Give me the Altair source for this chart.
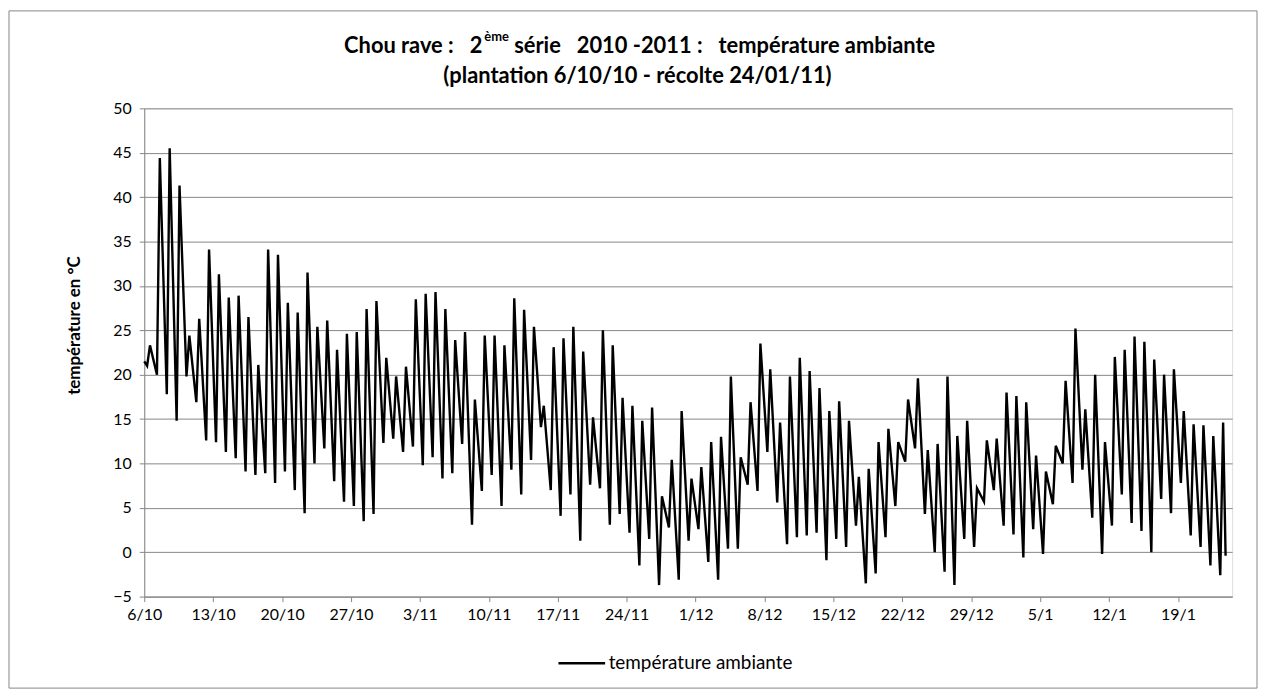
import altair as alt
import pandas as pd
from datetime import datetime, timedelta

# ---- data (daily minimum ~07h, daily maximum ~14h) ----
START = datetime(2010, 10, 6)
first_value = 21.5     # 6/10 00h
last_value = -0.4      # 23/1 20h

daily_min = [
    21.0, 20.0, 17.8, 14.8, 19.8, 16.9, 12.6, 12.4, 11.3, 10.6,
    9.1, 8.7, 8.9, 7.8, 9.1, 7.0, 4.4, 10.0, 11.7, 8.0,
    5.7, 5.2, 3.5, 4.3, 12.3, 12.8, 11.3, 11.9, 9.8, 10.7,
    8.3, 8.9, 12.2, 3.1, 6.9, 8.7, 5.2, 9.3, 6.5, 10.4,
    14.1, 7.0, 4.1, 6.5, 1.3, 7.6, 7.2, 3.1, 4.3, 2.2,
    -1.5, 1.5, -3.7, 2.8, -3.1, 1.3, 2.6, -1.1, -3.1, 0.4,
    0.4, 7.6, 6.9, 11.3, 5.6, 0.9, 1.7, 1.9, 2.2, -0.9,
    1.5, 0.6, 3.0, -3.5, -2.4, 1.7, 5.2, 10.2, 11.7, 4.3,
    0.0, -2.2, -3.7, 1.5, 0.6, 5.7, 7.0, 3.0, 2.0, -0.6,
    2.6, -0.2, 5.4, 10.0, 7.8, 9.3, 3.9, -0.2, 3.0, 6.5,
    3.3, 2.4, 0.0, 6.0, 4.4, 7.8, 1.9, 0.6, -1.5, -2.6,
]
daily_max = [
    23.3, 44.4, 45.5, 41.3, 24.4, 26.3, 34.1, 31.3, 28.7, 28.9,
    26.5, 21.1, 34.1, 33.5, 28.1, 27.0, 31.5, 25.4, 26.1, 22.8,
    24.6, 24.8, 27.4, 28.3, 21.9, 19.8, 20.9, 28.5, 29.1, 29.3,
    27.4, 23.9, 24.8, 17.2, 24.4, 24.4, 23.3, 28.6, 27.3, 25.4,
    16.5, 23.1, 24.1, 25.4, 22.6, 15.2, 25.0, 23.3, 17.4, 16.5,
    14.8, 16.3, 6.3, 10.4, 15.9, 8.3, 9.6, 12.4, 13.0, 19.8,
    10.7, 16.9, 23.5, 20.6, 14.6, 19.8, 21.9, 20.4, 18.5, 15.9,
    17.0, 14.8, 8.5, 9.4, 12.4, 13.9, 12.4, 17.2, 19.6, 11.5,
    12.2, 19.8, 13.1, 14.8, 7.2, 12.6, 12.8, 18.0, 17.6, 16.9,
    10.9, 9.1, 12.0, 19.3, 25.2, 16.1, 20.0, 12.4, 22.0, 22.8,
    24.3, 23.7, 21.7, 20.0, 20.6, 15.9, 14.4, 14.3, 13.1, 14.6,
]

series_name = "température ambiante"
y_ticks = [-5, 0, 5, 10, 15, 20, 25, 30, 35, 40, 45, 50]
x_tick_dates = [
    (2010, 10, 6), (2010, 10, 13), (2010, 10, 20), (2010, 10, 27),
    (2010, 11, 3), (2010, 11, 10), (2010, 11, 17), (2010, 11, 24),
    (2010, 12, 1), (2010, 12, 8), (2010, 12, 15), (2010, 12, 22),
    (2010, 12, 29), (2011, 1, 5), (2011, 1, 12), (2011, 1, 19),
]

rows = [{"t": START, "v": first_value}]
for d, (lo, hi) in enumerate(zip(daily_min, daily_max)):
    day = START + timedelta(days=d)
    rows.append({"t": day + timedelta(hours=7), "v": lo})
    rows.append({"t": day + timedelta(hours=14), "v": hi})
rows.append({"t": START + timedelta(days=len(daily_min) - 1, hours=20), "v": last_value})
df = pd.DataFrame(rows)
df["t"] = df["t"].dt.strftime("%Y-%m-%dT%H:%M:%S")
df["serie"] = series_name

FONT = "Lato"
GRAY = "#868686"
W, H = 1094, 491
PL, PT = 137, 99

x_enc = alt.X(
    "t:T",
    scale=alt.Scale(domain=[alt.DateTime(year=2010, month=10, date=6),
                            alt.DateTime(year=2011, month=1, date=24, hours=12)]),
    axis=alt.Axis(
        values=[alt.DateTime(year=y, month=m, date=d) for (y, m, d) in x_tick_dates],
        format="%-d/%-m", title=None, grid=False,
        labelFontSize=16, labelColor="black", labelFont=FONT, labelPadding=5,
        tickSize=5, tickColor=GRAY, domainColor=GRAY, labelFlush=False,
        labelOverlap=False,
    ),
)
y_enc = alt.Y(
    "v:Q",
    scale=alt.Scale(domain=[-5, 50], nice=False, zero=False),
    axis=alt.Axis(
        values=y_ticks, title="température en °C", titleFont=FONT,
        titleFontSize=17, titleFontWeight="bold", titleColor="black",
        titleAngle=270, titleAlign="center", titleBaseline="middle",
        titleX=-70, titleY=218,
        labelFontSize=16, labelColor="black", labelFont=FONT, labelPadding=8,
        tickSize=5, tickColor=GRAY, domainColor=GRAY,
        grid=True, gridColor=GRAY, gridWidth=1,
    ),
)

line = alt.Chart(df).mark_line(strokeWidth=2.4, strokeJoin="miter").encode(
    x=x_enc,
    y=y_enc,
    color=alt.Color(
        "serie:N",
        scale=alt.Scale(range=["black"]),
        legend=alt.Legend(
            title=None, orient="none", legendX=415, legendY=533,
            symbolType="stroke", symbolSize=2200, symbolStrokeWidth=2.5,
            symbolStrokeColor="black", labelFontSize=19, labelFont=FONT,
            labelColor="black", labelOffset=2, labelLimit=600,
        ),
    ),
)

one = pd.DataFrame({"k": [0]})
border = alt.Chart(one).mark_rect(fillOpacity=0, stroke=GRAY, strokeWidth=1).encode(
    x=alt.value(1 - PL), x2=alt.value(1256 - PL), y=alt.value(1 - PT), y2=alt.value(682 - PT)
)

title_style = dict(font=FONT, fontWeight="bold", fontSize=22, color="black", baseline="middle")
t1a = alt.Chart(one).mark_text(align="right", **title_style).encode(
    x=alt.value(485 - 8 - PL), y=alt.value(-63), text=alt.value("Chou rave :\u00a0\u00a0 2"))
t1b = alt.Chart(one).mark_text(align="left", font=FONT, fontWeight="bold", fontSize=13,
                               color="black", baseline="middle").encode(
    x=alt.value(487 - 8 - PL), y=alt.value(-72), text=alt.value("ème"))
t1c = alt.Chart(one).mark_text(align="left", **title_style).encode(
    x=alt.value(517 - 8 - PL), y=alt.value(-63),
    text=alt.value("série\u00a0\u00a0 2010 -2011 :\u00a0\u00a0 température ambiante"))
t2 = alt.Chart(one).mark_text(align="center", **title_style).encode(
    x=alt.value(641 - 8 - PL), y=alt.value(-32), text=alt.value("(plantation 6/10/10 - récolte 24/01/11)"))

chart = alt.layer(border, line, t1a, t1b, t1c, t2).properties(
    width=W, height=H,
    autosize=alt.AutoSizeParams(type="none"),
    padding={"left": PL, "top": PT, "right": 1258 - PL - W, "bottom": 684 - PT - H},
).configure_view(stroke=GRAY, strokeWidth=1).configure(background="white")

chart.save("out.html", embed_options={"renderer": "svg", "actions": False})
